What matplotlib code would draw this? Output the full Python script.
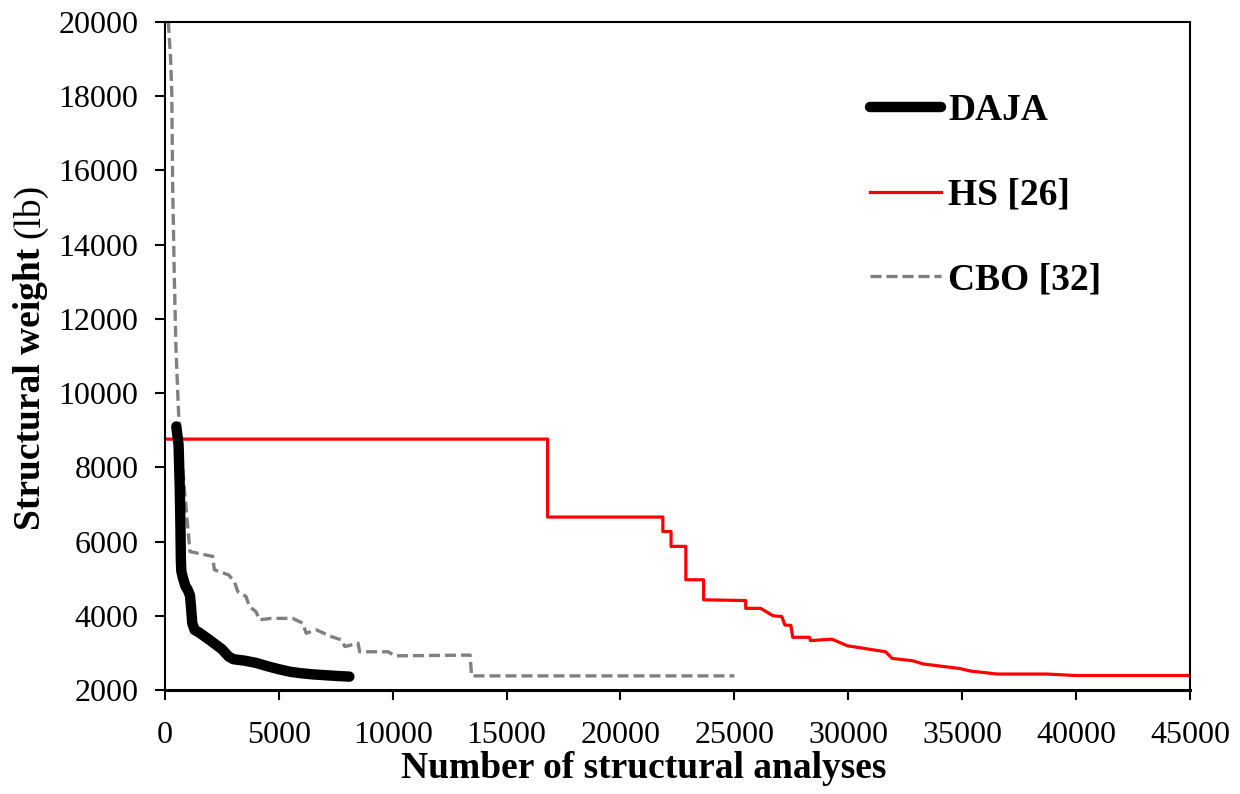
import matplotlib
matplotlib.use('Agg')
import matplotlib.pyplot as plt

plt.rcParams['font.family'] = 'Liberation Serif'

# DAJA convergence history
daja_x = [500, 600, 650, 680, 700, 720, 800, 900, 1000, 1100, 1150, 1200, 1300, 1500,
          2000, 2500, 2800, 3000, 3500, 4000, 4500, 5000, 5500, 6000, 6500, 7000, 7500, 8100]
daja_y = [9100, 8600, 7500, 6500, 5500, 5200, 5000, 4800, 4700, 4550, 4200, 3800, 3620, 3550,
          3330, 3100, 2900, 2830, 2790, 2730, 2640, 2560, 2490, 2450, 2420, 2400, 2380, 2360]

# HS [26]
hs_x = [100, 16800, 16800, 21860, 21860, 22220, 22220, 22870, 22870, 23650, 23650, 25500,
        25500, 26150, 26700, 27080, 27220, 27480, 27560, 28300, 28340, 29280, 29970, 31640,
        31930, 32810, 33300, 34880, 35370, 36540, 38700, 39980, 45000]
hs_y = [8760, 8760, 6660, 6660, 6270, 6270, 5870, 5870, 4970, 4970, 4430, 4410,
        4200, 4200, 4000, 3980, 3750, 3740, 3420, 3420, 3330, 3370, 3190, 3030,
        2850, 2790, 2700, 2580, 2510, 2430, 2430, 2390, 2390]

# CBO [32]
cbo_x = [150, 250, 300, 340, 410, 480, 600, 700, 780, 900, 1000, 1100, 2100, 2170, 2800,
         3050, 3200, 3560, 3710, 4000, 4150, 4650, 5600, 6050, 6200, 6650, 7300, 7750, 7900,
         8480, 8550, 9800, 10100, 13400, 13460, 25000]
cbo_y = [20000, 19000, 18100, 15600, 13200, 11300, 9450, 8700, 8000, 7100, 6400, 5730, 5600,
         5240, 5100, 4920, 4650, 4520, 4250, 4110, 3890, 3930, 3930, 3800, 3530, 3620, 3440,
         3350, 3170, 3260, 3030, 3030, 2920, 2940, 2380, 2380]

W, H = 1240, 794
fig = plt.figure(figsize=(W / 100, H / 100), dpi=100)
ax = fig.add_axes([0.133, 0.131, 0.8266, 0.8413])

ax.plot(daja_x, daja_y, color='black', lw=7.5, solid_capstyle='round',
        solid_joinstyle='round', label='DAJA', zorder=3)
ax.plot(hs_x, hs_y, color='#ff0000', lw=2.3, label='HS [26]', zorder=2)
ax.plot(cbo_x, cbo_y, color='#808080', lw=2.4, linestyle=(0, (3.3, 1.5)),
        label='CBO [32]', zorder=2)

ax.set_xlim(0, 45000)
ax.set_ylim(2000, 20000)
ax.set_xticks(range(0, 45001, 5000))
ax.set_yticks(range(2000, 20001, 2000))
ax.tick_params(direction='out', length=7, width=1.5, labelsize=23)
ax.tick_params(axis='x', pad=15)
ax.tick_params(axis='y', pad=12)

for s in ax.spines.values():
    s.set_linewidth(1.5)
ax.spines['bottom'].set_linewidth(2.2)

ax.set_xlabel('Number of structural analyses', fontsize=27, fontweight='bold')
ax.xaxis.set_label_coords(0.467, -0.091)

# y label: bold words, then "(lb)" in regular weight
t1 = fig.text(30 / W, (H - 530) / H, 'Structural weight ', rotation=90,
              rotation_mode='anchor', ha='left', va='center',
              fontsize=27, fontweight='bold')
fig.canvas.draw()
bb = t1.get_window_extent()
fig.text(30 / W, bb.y1 / H, '(lb)', rotation=90, rotation_mode='anchor',
         ha='left', va='center', fontsize=27)

ax.legend(loc='upper left', bbox_to_anchor=(0.688, 0.893), frameon=False,
          prop={'weight': 'bold', 'size': 27}, handlelength=1.9,
          handletextpad=0.18, labelspacing=1.32, borderpad=0, borderaxespad=0)

fig.savefig('out.png', dpi=100)
